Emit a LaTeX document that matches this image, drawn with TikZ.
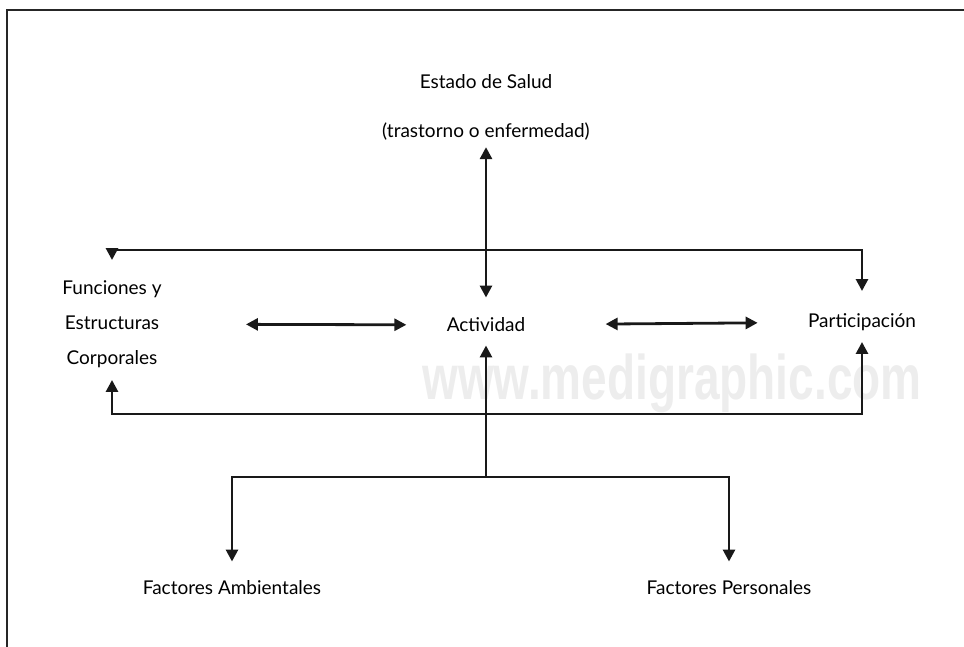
\documentclass[tikz,border=0pt]{standalone}
\usepackage{fontspec}
\setmainfont{Lato}
\newfontfamily\markfont{Liberation Sans}
\usetikzlibrary{arrows.meta}
\tikzset{
  >={Triangle[width=6pt,length=6pt]},
  lbl/.style={font=\fontsize{9.5}{11}\selectfont, inner sep=0pt},
  flow/.style={line width=1.4pt, draw=black!90},
}
\begin{document}
\begin{tikzpicture}[x=0.5pt,y=-0.5pt]
  \useasboundingbox (0,0) rectangle (964,647);
  % watermark and frame
  \node[font=\markfont\bfseries\fontsize{31.5}{32}\selectfont, text=black!7,
        anchor=base, inner sep=0pt] (mark) at (672,399)
        {\scalebox{0.73}[1]{www.medigraphic.com}};
  \draw[line width=0.8pt, black!85] (7,680) -- (7,10) -- (990,10);
  \draw
    (486,82) node[lbl] (salud){Estado de Salud}
    (486,132) node[lbl] (trast){(trastorno o enfermedad)}
    (112,324) node[lbl, align=center, font=\fontsize{9.5}{17.5}\selectfont] (func){Funciones y\\Estructuras\\Corporales}
    (486,325) node[lbl] (act){Actividad}
    (862,322) node[lbl] (part){Participación}
    (232,588) node[lbl] (amb){Factores Ambientales}
    (729,588) node[lbl] (pers){Factores Personales};
  \coordinate (top) at (486,250);
  \coordinate (back) at (486,414);
  \coordinate (fork) at (486,477);
  \begin{scope}[flow]
    \draw[<->, shorten <=3pt, shorten >=10pt] (trast) to (act);
    \draw[->, shorten >=10pt] (top) -| (func);
    \draw[->, shorten >=11pt] (top) -| (part);
    \draw[<->, shorten <=42pt, shorten >=20pt] (func) to (act);
    \draw[<->, shorten <=40pt, shorten >=25pt] (act) to (part);
    \draw[->, shorten >=6pt] (back) -| (func);
    \draw[->, shorten >=5.5pt] (back) -| (part);
    \draw[->, shorten >=6.5pt] (fork) to (act);
    \draw[->, shorten >=9.5pt] (fork) -| (amb);
    \draw[->, shorten >=9.5pt] (fork) -| (pers);
  \end{scope}
\end{tikzpicture}
\end{document}
